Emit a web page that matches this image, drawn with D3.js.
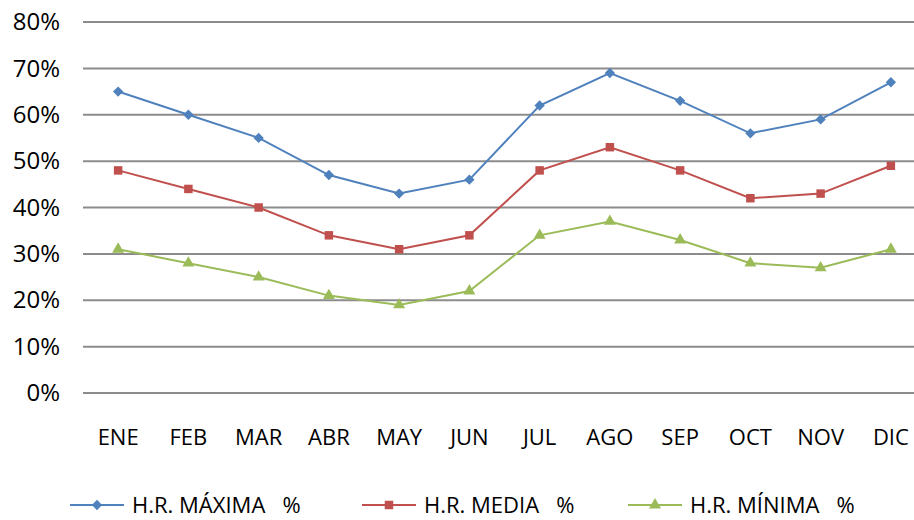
<!DOCTYPE html>
<html>
<head>
<meta charset="utf-8">
<script src="https://cdn.jsdelivr.net/npm/d3@7"></script>
<style>
  body { margin: 0; background: #fff; }
  svg { display: block; font-family: "Open Sans", sans-serif; }
</style>
</head>
<body>
<svg id="chart" width="914" height="520"></svg>
<script>
// Monthly relative humidity (%)
const months = ["ENE","FEB","MAR","ABR","MAY","JUN","JUL","AGO","SEP","OCT","NOV","DIC"];
const hrMaxima = [65, 60, 55, 47, 43, 46, 62, 69, 63, 56, 59, 67];
const hrMedia  = [48, 44, 40, 34, 31, 34, 48, 53, 48, 42, 43, 49];
const hrMinima = [31, 28, 25, 21, 19, 22, 34, 37, 33, 28, 27, 31];
const yTicks = [0, 10, 20, 30, 40, 50, 60, 70, 80];
const seriesNames = ["H.R. MÁXIMA\u00a0\u00a0\u00a0%", "H.R. MEDIA\u00a0\u00a0\u00a0%", "H.R. MÍNIMA\u00a0\u00a0\u00a0%"];

const series = [
  { name: seriesNames[0], values: hrMaxima, color: "#4F81BD", symbol: d3.symbolDiamond2, size: 68 },
  { name: seriesNames[1], values: hrMedia,  color: "#C0504D", symbol: d3.symbolSquare,  size: 72 },
  { name: seriesNames[2], values: hrMinima, color: "#9BBB59", symbol: d3.symbolTriangle, size: 62 }
];

const svg = d3.select("#chart");
const plotLeft = 83, plotRight = 926, plotTop = 22, plotBottom = 393;

const x = d3.scaleBand().domain(months).range([plotLeft, plotRight]);
const y = d3.scaleLinear().domain([0, 80]).range([plotBottom, plotTop]);

// horizontal gridlines
svg.append("g").selectAll("line").data(yTicks).join("line")
  .attr("x1", plotLeft).attr("x2", 914)
  .attr("y1", d => y(d)).attr("y2", d => y(d))
  .attr("stroke", "#8c8c8c").attr("stroke-width", 2);

// y-axis labels
const yAxis = d3.axisLeft(y).tickValues(yTicks).tickFormat(d => d + "%").tickSize(0).tickPadding(0);
const gy = svg.append("g").attr("transform", `translate(60,0)`).call(yAxis);
gy.select(".domain").remove();
gy.selectAll("text").attr("font-size", 24).attr("fill", "#000").attr("font-family", "Open Sans, sans-serif");

// x-axis labels
const xAxis = d3.axisBottom(x).tickSize(0).tickPadding(0);
const gx = svg.append("g").attr("transform", `translate(0,${plotBottom + 36})`).call(xAxis);
gx.select(".domain").remove();
gx.selectAll("text").attr("font-size", 22).attr("fill", "#000").attr("font-family", "Open Sans, sans-serif");

// lines + markers
const line = d3.line().x((d, i) => x(months[i]) + x.bandwidth() / 2).y(d => y(d));
series.forEach(s => {
  svg.append("path").datum(s.values)
    .attr("d", line).attr("fill", "none")
    .attr("stroke", s.color).attr("stroke-width", 2);
  svg.append("g").selectAll("path").data(s.values).join("path")
    .attr("d", d3.symbol().type(s.symbol).size(s.size))
    .attr("transform", (d, i) => `translate(${x(months[i]) + x.bandwidth() / 2},${y(d)})`)
    .attr("fill", s.color);
});

// legend
const legendX = [70, 362, 628];
const legendY = 505;
series.forEach((s, i) => {
  const g = svg.append("g").attr("transform", `translate(${legendX[i]},${legendY})`);
  g.append("line").attr("x1", 0).attr("x2", 54).attr("y1", 0).attr("y2", 0)
    .attr("stroke", s.color).attr("stroke-width", 2);
  g.append("path").attr("d", d3.symbol().type(s.symbol).size(s.size))
    .attr("transform", "translate(27,0)").attr("fill", s.color);
  g.append("text").attr("x", 62).attr("y", 0).attr("dy", "0.36em")
    .attr("font-size", 22).attr("fill", "#000").text(s.name);
});
</script>
</body>
</html>
